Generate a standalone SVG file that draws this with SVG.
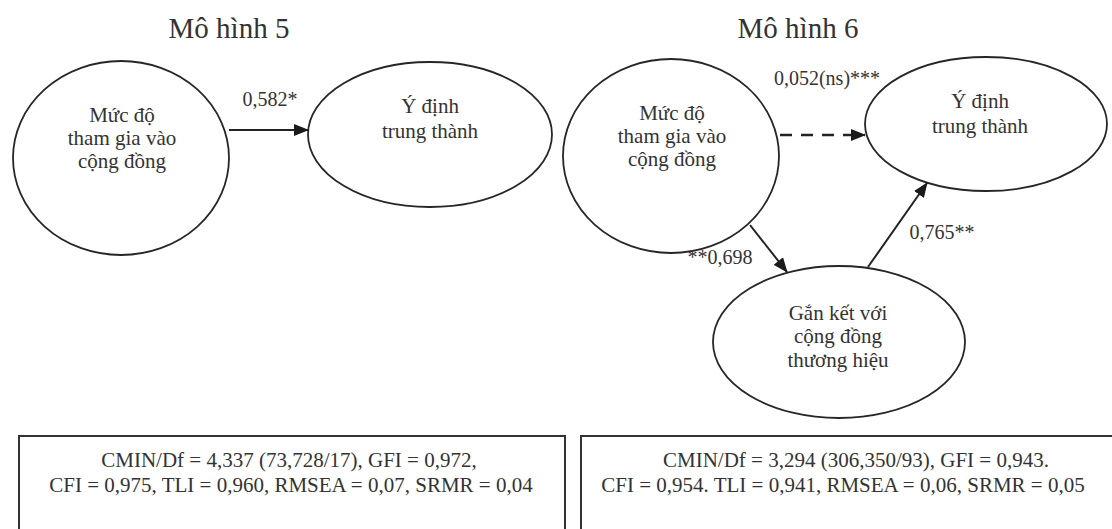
<svg xmlns="http://www.w3.org/2000/svg" width="1112" height="529" viewBox="0 0 1112 529">
<style>
.node ellipse{fill:none;stroke:#262626;stroke-width:1.8}
.lbl{font-family:"Liberation Serif","Times New Roman",serif;font-size:21px;fill:#333;text-anchor:middle}
.title{font-family:"Liberation Serif","Times New Roman",serif;font-size:29px;fill:#333;text-anchor:middle}
.elbl{font-family:"Liberation Serif","Times New Roman",serif;font-size:20px;fill:#333;text-anchor:middle}
.conn{stroke:#222;stroke-width:2;fill:none}
.dash{stroke-dasharray:12 9;stroke-width:2.6}
.box{fill:none;stroke:#333;stroke-width:2}
.btxt{font-family:"Liberation Serif","Times New Roman",serif;font-size:21px;fill:#333;text-anchor:middle}
</style>
<defs>
<marker id="arr" markerUnits="userSpaceOnUse" markerWidth="15" markerHeight="12" refX="14" refY="6" orient="auto">
<path d="M0,0 L15,6 L0,12 z" fill="#1a1a1a"/>
</marker>
</defs>
<rect width="1112" height="529" fill="#ffffff"/>

<text class="title" x="229" y="38">Mô hình 5</text>
<text class="title" x="798" y="38">Mô hình 6</text>

<g id="m5-participation" class="node">
<ellipse cx="121" cy="158" rx="108" ry="97"/>
<text class="lbl" x="122" y="122">Mức độ</text>
<text class="lbl" x="122" y="145">tham gia vào</text>
<text class="lbl" x="122" y="168">cộng đồng</text>
</g>
<g id="m5-loyalty" class="node">
<ellipse cx="430" cy="134.5" rx="122" ry="72.5"/>
<text class="lbl" x="430" y="113">Ý định</text>
<text class="lbl" x="430" y="138">trung thành</text>
</g>

<g id="m6-participation" class="node">
<ellipse cx="671" cy="156" rx="108" ry="97"/>
<text class="lbl" x="672" y="120">Mức độ</text>
<text class="lbl" x="672" y="143">tham gia vào</text>
<text class="lbl" x="672" y="166">cộng đồng</text>
</g>
<g id="m6-loyalty" class="node">
<ellipse cx="986" cy="124" rx="121" ry="67"/>
<text class="lbl" x="980" y="108">Ý định</text>
<text class="lbl" x="980" y="133">trung thành</text>
</g>
<g id="m6-attachment" class="node">
<ellipse cx="839" cy="342" rx="126" ry="76"/>
<text class="lbl" x="838" y="320">Gắn kết với</text>
<text class="lbl" x="838" y="343">cộng đồng</text>
<text class="lbl" x="838" y="367">thương hiệu</text>
</g>

<g id="connectors">
<line class="conn" x1="229" y1="130" x2="308" y2="130" marker-end="url(#arr)"/>
<line class="conn dash" x1="780" y1="135" x2="865" y2="135" marker-end="url(#arr)"/>
<line class="conn" x1="750" y1="225" x2="787" y2="272" marker-end="url(#arr)"/>
<line class="conn" x1="868" y1="267" x2="927" y2="183" marker-end="url(#arr)"/>
<text class="elbl" x="270" y="106">0,582*</text>
<text class="elbl" x="827" y="85">0,052(ns)***</text>
<text class="elbl" x="720" y="264">**0,698</text>
<text class="elbl" x="942" y="239">0,765**</text>
</g>

<g id="fit5">
<path class="box" d="M19,540 L19,436 L565,436 L565,540"/>
<text class="btxt" x="289" y="467">CMIN/Df = 4,337 (73,728/17), GFI = 0,972,</text>
<text class="btxt" x="291" y="492">CFI = 0,975, TLI = 0,960, RMSEA = 0,07, SRMR = 0,04</text>
</g>
<g id="fit6">
<path class="box" d="M581,540 L581,436 L1120,436"/>
<text class="btxt" x="856" y="467">CMIN/Df = 3,294 (306,350/93), GFI = 0,943.</text>
<text class="btxt" x="843" y="492">CFI = 0,954. TLI = 0,941, RMSEA = 0,06, SRMR = 0,05</text>
</g>
</svg>
